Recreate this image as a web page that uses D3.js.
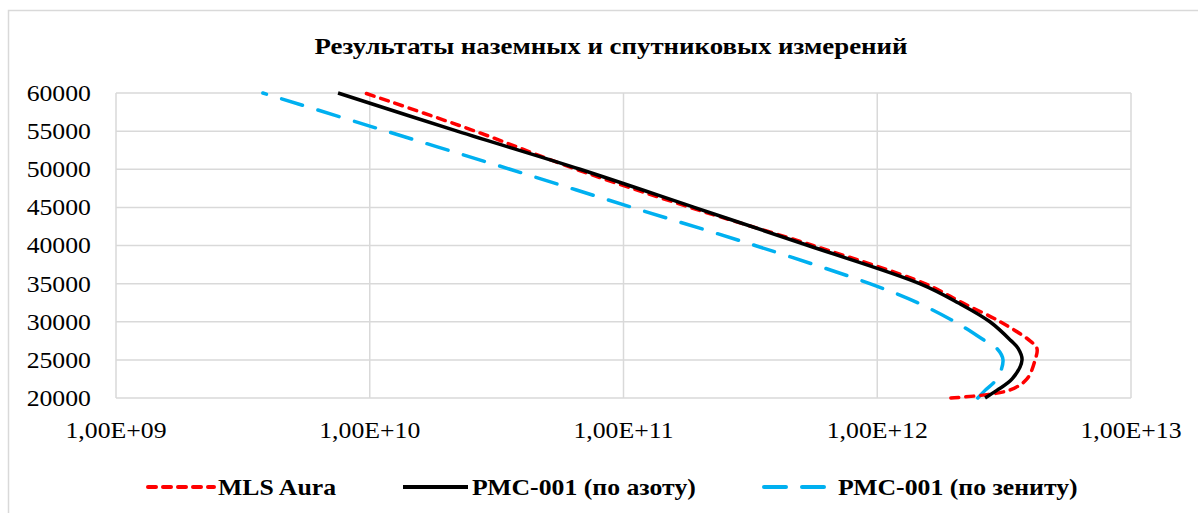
<!DOCTYPE html>
<html>
<head>
<meta charset="utf-8">
<script src="https://cdn.jsdelivr.net/npm/d3@7"></script>
</head>
<body>
<div id="chart"></div>
<script>
const altitudes = [20000, 21000, 22500, 25000, 26500, 27500, 30000, 32500, 35000, 40000, 45000, 50000, 55000, 60000];
const mlsAura = [1.95e12, 3.30e12, 3.89e12, 4.19e12, 4.26e12, 4.00e12, 3.05e12, 2.16e12, 1.54e12, 5.58e11, 1.83e11, 6.50e10, 2.60e10, 9.57e9];
const pmcAzot = [2.66e12, 2.96e12, 3.40e12, 3.72e12, 3.59e12, 3.37e12, 2.78e12, 2.08e12, 1.47e12, 5.34e11, 1.90e11, 6.74e10, 2.21e10, 7.50e9];
const pmcZenit = [2.49e12, 2.66e12, 2.96e12, 3.13e12, 2.96e12, 2.66e12, 2.02e12, 1.44e12, 9.35e11, 3.30e11, 1.08e11, 3.57e10, 1.16e10, 3.79e9];

const seriesNames = ['MLS Aura', 'РМС-001 (по азоту)', 'РМС-001 (по зениту)'];
const xTicks = [1e9, 1e10, 1e11, 1e12, 1e13];
const yTicks = [20000, 25000, 30000, 35000, 40000, 45000, 50000, 55000, 60000];
const title = 'Результаты наземных и спутниковых измерений';

const width = 1198, height = 513;
const plot = { left: 116, right: 1131, top: 93, bottom: 398 };
const stretch = 1.12; // text in the picture is a bit wider than normal

const styles = [
  { color: '#ff0000', dash: '8,7', width: 3.5 },
  { color: '#000000', dash: null, width: 3.5 },
  { color: '#00b0f0', dash: '22,16', width: 3.5 }
];

d3.select('body').style('margin', '0');

const svg = d3.select('#chart')
    .append('svg')
    .attr('width', width)
    .attr('height', height);

// outer frame
svg.append('rect')
    .attr('x', 8.5).attr('y', 10.5)
    .attr('width', 1300).attr('height', 600)
    .attr('fill', 'none')
    .attr('stroke', '#d9d9d9')
    .attr('stroke-width', 1.5);

const x = d3.scaleLog().domain([1e9, 1e13]).range([plot.left, plot.right]);
const y = d3.scaleLinear().domain([20000, 60000]).range([plot.bottom, plot.top]);

const stretchText = (sel) => sel.attr('transform', function() {
  const tx = +d3.select(this).attr('x'), ty = +d3.select(this).attr('y');
  return `translate(${tx},${ty}) scale(${stretch},1) translate(${-tx},${-ty})`;
});

// grid
svg.append('g')
    .selectAll('line')
    .data(yTicks)
    .enter()
    .append('line')
    .attr('x1', plot.left).attr('x2', plot.right)
    .attr('y1', d => y(d)).attr('y2', d => y(d))
    .attr('stroke', '#d9d9d9')
    .attr('stroke-width', 1.5);

svg.append('g')
    .selectAll('line')
    .data(xTicks)
    .enter()
    .append('line')
    .attr('x1', d => x(d)).attr('x2', d => x(d))
    .attr('y1', plot.top).attr('y2', plot.bottom)
    .attr('stroke', '#d9d9d9')
    .attr('stroke-width', 1.5);

// tick labels (no font-family: default face is the serif one)
const fmtExp = (v) => {
  const e = Math.round(Math.log10(v));
  return '1,00E+' + (e < 10 ? '0' + e : e);
};

svg.append('g')
    .selectAll('text')
    .data(xTicks)
    .enter()
    .append('text')
    .attr('x', d => x(d))
    .attr('y', 438)
    .attr('text-anchor', 'middle')
    .attr('font-size', 23)
    .text(fmtExp)
    .call(stretchText);

svg.append('g')
    .selectAll('text')
    .data(yTicks)
    .enter()
    .append('text')
    .attr('x', 91)
    .attr('y', d => y(d) + 8)
    .attr('text-anchor', 'end')
    .attr('font-size', 23)
    .text(d => d)
    .call(stretchText);

svg.append('text')
    .attr('x', 611)
    .attr('y', 54)
    .attr('text-anchor', 'middle')
    .attr('font-size', 24)
    .attr('font-weight', 'bold')
    .text(title)
    .call(stretchText);

// curves
const series = [mlsAura, pmcAzot, pmcZenit];
const line = d3.line()
    .x(d => x(d[1]))
    .y(d => y(d[0]))
    .curve(d3.curveCatmullRom.alpha(0.5));

svg.append('defs').append('clipPath')
    .attr('id', 'plot-clip')
    .append('rect')
    .attr('x', plot.left - 5).attr('y', plot.top - 5)
    .attr('width', plot.right - plot.left + 10)
    .attr('height', plot.bottom - plot.top + 7);

const curves = svg.append('g').attr('clip-path', 'url(#plot-clip)');

// zenith first, then aura, azot on top
[2, 0, 1].forEach(i => {
  curves.append('path')
      .datum(altitudes.map((a, j) => [a, series[i][j]]))
      .attr('d', line)
      .attr('fill', 'none')
      .attr('stroke', styles[i].color)
      .attr('stroke-width', styles[i].width)
      .attr('stroke-dasharray', styles[i].dash)
      .attr('stroke-linecap', styles[i].dash ? 'round' : 'butt');
});

// legend
const legendItems = [
  { x1: 148, x2: 214, tx: 218 },
  { x1: 403, x2: 468, tx: 472 },
  { x1: 764, x2: 835, tx: 838 }
];
const legendY = 487;

const legend = svg.append('g')
    .selectAll('g')
    .data(legendItems)
    .enter()
    .append('g');

legend.append('line')
    .attr('x1', d => d.x1).attr('x2', d => d.x2)
    .attr('y1', legendY).attr('y2', legendY)
    .attr('stroke', (d, i) => styles[i].color)
    .attr('stroke-width', 4)
    .attr('stroke-dasharray', (d, i) => styles[i].dash)
    .attr('stroke-linecap', (d, i) => styles[i].dash ? 'round' : 'butt');

legend.append('text')
    .attr('x', d => d.tx)
    .attr('y', legendY + 8)
    .attr('font-size', 23)
    .attr('font-weight', 'bold')
    .text((d, i) => seriesNames[i])
    .call(stretchText);
</script>
</body>
</html>
